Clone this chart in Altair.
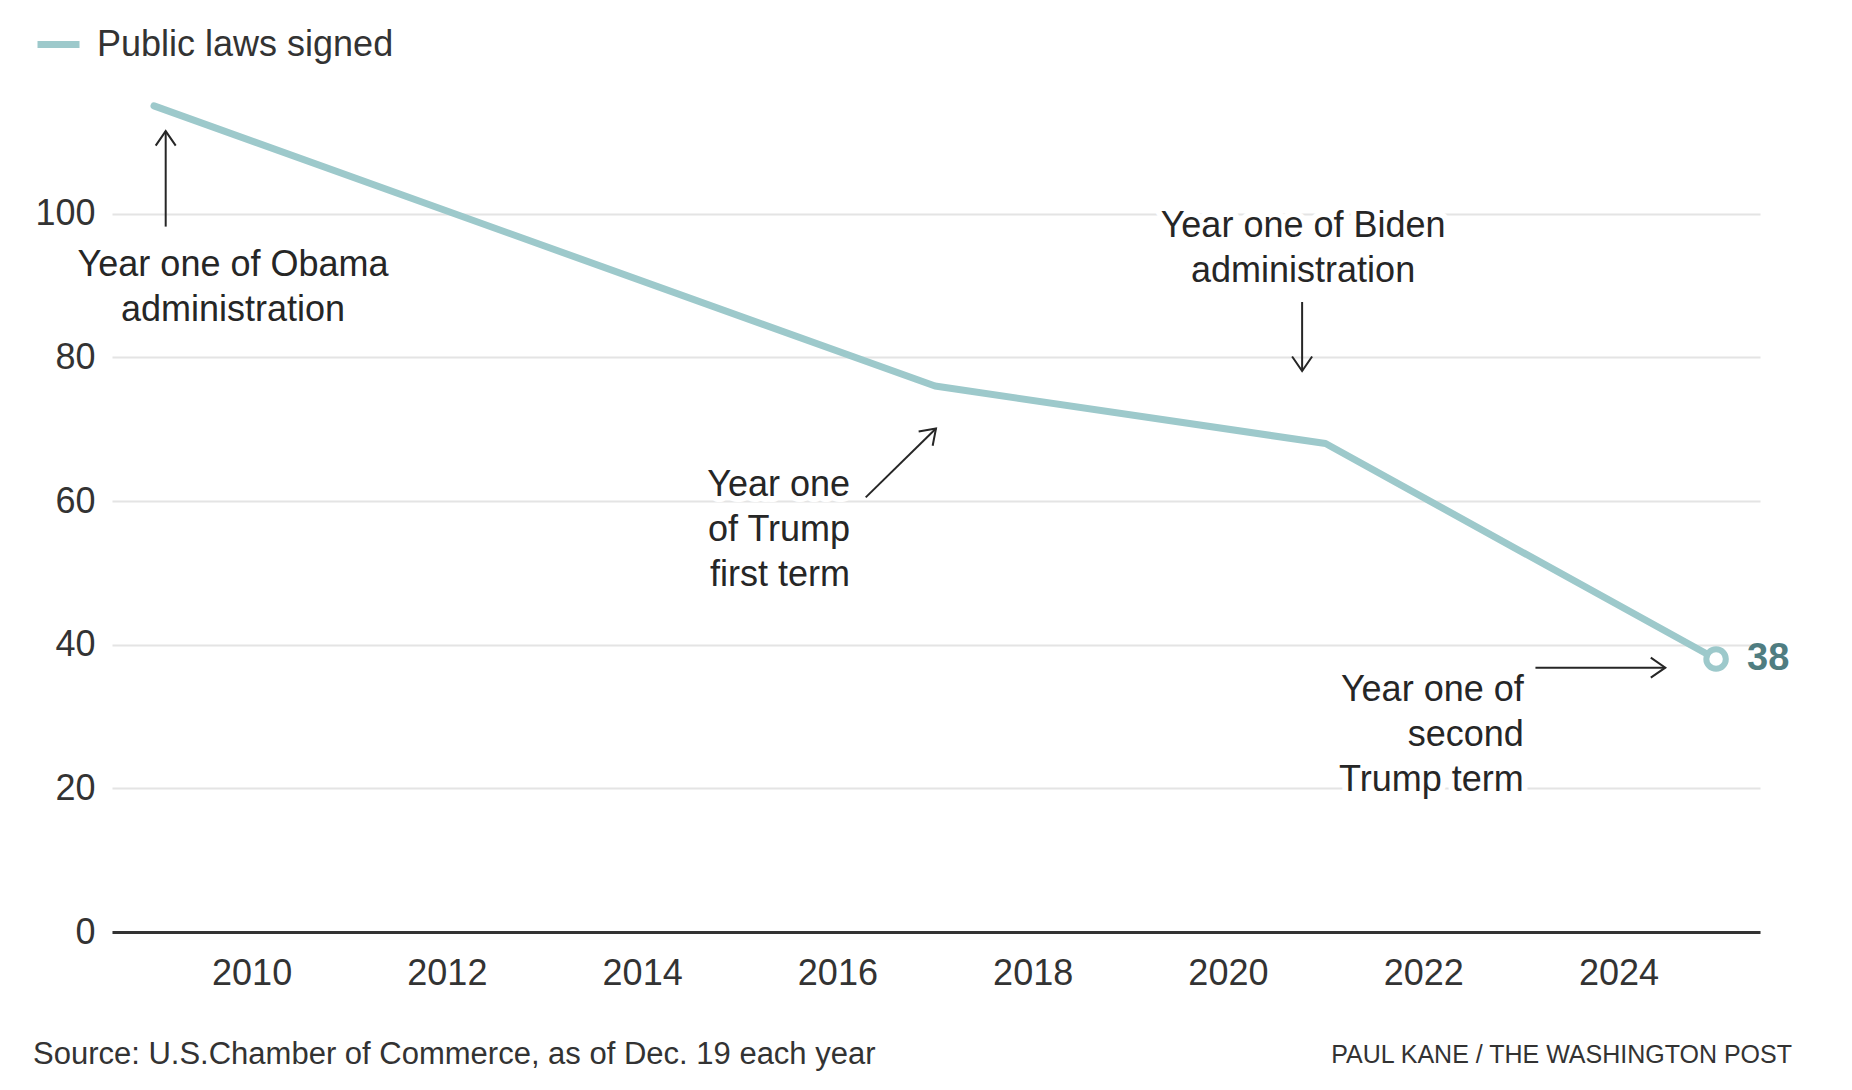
import math
import altair as alt
import pandas as pd

# ---- data -------------------------------------------------------------
years = [2009, 2017, 2021, 2025]
laws = [115, 76, 68, 38]
series_name = "Public laws signed"

x_ticks = [2010, 2012, 2014, 2016, 2018, 2020, 2022, 2024]
y_ticks = [0, 20, 40, 60, 80, 100]

ann_text = [
    "Year one of Obama\nadministration",
    "Year one of Biden\nadministration",
    "Year one\nof Trump\nfirst term",
    "Year one of\nsecond\nTrump term",
]
ann_x = [2009.81, 2020.77, 2016.13, 2023.03]
ann_y = [91.3, 96.7, 60.7, 32.2]
ann_align = ["center", "center", "right", "right"]

arrow_x = [2009.12, 2020.76, 2016.29, 2023.15]
arrow_y = [98.2, 87.7, 60.5, 36.8]
arrow_x2 = [2009.12, 2020.76, 2017.01, 2024.48]
arrow_y2 = [111.5, 78.1, 70.1, 36.8]

source_text = "Source: U.S.Chamber of Commerce, as of Dec. 19 each year"
credit_text = "PAUL KANE / THE WASHINGTON POST"

# ---- layout / style ---------------------------------------------------
X_DOMAIN = [2008.57, 2025.45]
Y_DOMAIN = [0, 120]
W, H = 1648, 862
LINE_COLOR = "#9dc9cb"
LABEL_COLOR = "#4f7d81"
TEXT_COLOR = "#262626"
FONT = "Liberation Sans"

px_per_year = W / (X_DOMAIN[1] - X_DOMAIN[0])
px_per_unit = H / (Y_DOMAIN[1] - Y_DOMAIN[0])
angles = [
    math.degrees(math.atan2((x2 - x1) * px_per_year, (y2 - y1) * px_per_unit))
    for x1, y1, x2, y2 in zip(arrow_x, arrow_y, arrow_x2, arrow_y2)
]

df = pd.DataFrame({"year": years, "laws": laws, "series": series_name})
last = df.tail(1)
ann = pd.DataFrame({"text": ann_text, "x": ann_x, "y": ann_y, "align": ann_align})
arrows = pd.DataFrame({"x": arrow_x, "y": arrow_y, "x2": arrow_x2, "y2": arrow_y2, "angle": angles})

xscale = alt.Scale(domain=X_DOMAIN, nice=False, zero=False)
yscale = alt.Scale(domain=Y_DOMAIN, nice=False)

x_axis = alt.Axis(values=x_ticks, format="d", grid=False, domain=True, domainColor="#333333",
                  domainWidth=3, ticks=False, labelFontSize=36, labelPadding=24,
                  labelColor="#333333", title=None)
y_axis = alt.Axis(values=y_ticks, grid=True, gridColor="#e4e4e4", gridWidth=2, domain=False,
                  ticks=False, labelFontSize=36, labelPadding=17, labelColor="#333333", title=None)

line = alt.Chart(df).mark_line(strokeWidth=7, strokeCap="round", strokeJoin="round").encode(
    x=alt.X("year:Q", scale=xscale, axis=x_axis),
    y=alt.Y("laws:Q", scale=yscale, axis=y_axis),
    color=alt.Color("series:N", scale=alt.Scale(range=[LINE_COLOR]),
                    legend=alt.Legend(orient="none", legendX=-78, legendY=-50, title=None,
                                      labelFontSize=36, labelColor="#333333", labelFont=FONT,
                                      labelLimit=0,
                                      symbolType="stroke", symbolStrokeWidth=7, symbolSize=1764,
                                      labelOffset=14, padding=0)),
)

end_point = alt.Chart(last).mark_point(shape="circle", size=380, fill="white", stroke=LINE_COLOR,
                                       strokeWidth=6, opacity=1, filled=False, fillOpacity=1).encode(
    x=alt.X("year:Q", scale=xscale), y=alt.Y("laws:Q", scale=yscale))

end_label = alt.Chart(last).mark_text(align="left", baseline="middle", dx=31, dy=0, fontSize=38,
                                      fontWeight="bold", color=LABEL_COLOR, font=FONT).encode(
    x=alt.X("year:Q", scale=xscale), y=alt.Y("laws:Q", scale=yscale), text="laws:Q")

ann_layers = []
for al in ["center", "right"]:
    sub = ann[ann["align"] == al]
    base = alt.Chart(sub).encode(x=alt.X("x:Q", scale=xscale), y=alt.Y("y:Q", scale=yscale),
                                 text="text:N")
    halo = base.mark_text(align=al, baseline="alphabetic", fontSize=36, lineHeight=45,
                          lineBreak="\n", font=FONT, color="white", stroke="white",
                          strokeWidth=12, strokeJoin="round")
    txt = base.mark_text(align=al, baseline="alphabetic", fontSize=36, lineHeight=45,
                         lineBreak="\n", font=FONT, color=TEXT_COLOR)
    ann_layers += [halo, txt]

arrow_lines = alt.Chart(arrows).mark_rule(strokeWidth=2, color=TEXT_COLOR).encode(
    x=alt.X("x:Q", scale=xscale), y=alt.Y("y:Q", scale=yscale), x2="x2:Q", y2="y2:Q")

arrow_heads = alt.Chart(arrows).mark_point(shape="M -1 1.45 L 0 0 L 1 1.45", size=400, filled=False,
                                           stroke=TEXT_COLOR, strokeWidth=2, opacity=1).encode(
    x=alt.X("x2:Q", scale=xscale), y=alt.Y("y2:Q", scale=yscale), angle=alt.Angle("angle:Q", scale=None))

foot_df = pd.DataFrame({"source": [source_text], "credit": [credit_text]})
source = alt.Chart(foot_df).mark_text(align="left", baseline="middle", fontSize=31, font=FONT,
                                      color="#333333").encode(
    x=alt.value(-79), y=alt.value(985), text="source:N")
credit = alt.Chart(foot_df).mark_text(align="right", baseline="middle", fontSize=25, font=FONT,
                                      color="#333333").encode(
    x=alt.value(1680), y=alt.value(985), text="credit:N")

chart = alt.layer(line, *ann_layers, arrow_lines, arrow_heads, end_point, end_label, source, credit).properties(
    width=W, height=H,
    padding={"left": 104, "top": 62, "right": 84, "bottom": 140},
    autosize=alt.AutoSizeParams(type="none"),
    background="white",
).configure(font=FONT).configure_view(strokeWidth=0, stroke="transparent")

chart.save("out.html", embed_options={"renderer": "svg", "actions": False})
